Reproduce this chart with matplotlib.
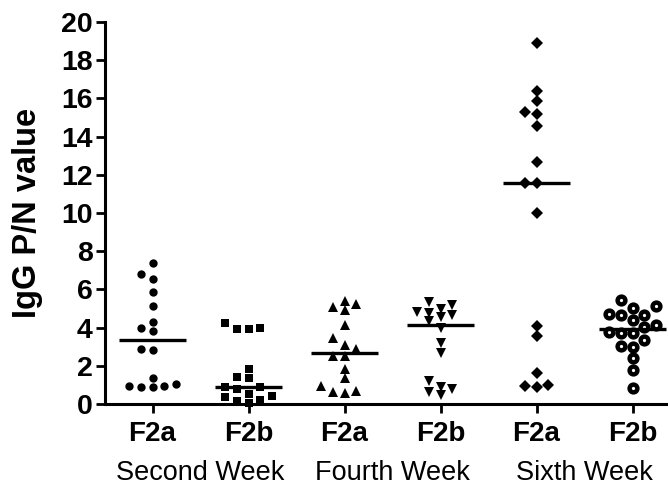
import matplotlib
matplotlib.use("Agg")
import matplotlib.pyplot as plt
import matplotlib.transforms as mtransforms
import numpy as np

plt.rcParams['font.family'] = ['Liberation Sans', 'DejaVu Sans']

# data
groups = ["F2a", "F2b", "F2a", "F2b", "F2a", "F2b"]
weeks = ["Second Week", "Fourth Week", "Sixth Week"]
second_f2a = [7.40, 6.79, 6.54, 5.88, 5.15, 4.28, 4.00, 3.84, 2.86, 2.83, 1.35, 1.03, 0.96, 0.94, 0.91, 0.87]
second_f2b = [4.22, 4.00, 3.91, 3.91, 1.82, 1.43, 1.38, 0.91, 0.87, 0.80, 0.52, 0.42, 0.35, 0.21, 0.16, 0.07]
fourth_f2a = [5.41, 5.22, 5.06, 4.92, 4.14, 3.44, 3.09, 2.88, 2.51, 2.51, 1.82, 1.38, 0.96, 0.68, 0.64, 0.56]
fourth_f2b = [5.32, 5.18, 4.96, 4.83, 4.78, 4.66, 4.54, 4.35, 3.96, 3.21, 2.69, 1.20, 0.91, 0.79, 0.64, 0.47]
sixth_f2a = [18.92, 16.39, 15.86, 15.30, 15.17, 14.55, 12.69, 11.59, 11.55, 10.02, 4.08, 3.56, 1.64, 0.99, 0.94, 0.91]
sixth_f2b = [5.45, 5.13, 5.01, 4.71, 4.66, 4.66, 4.40, 4.14, 4.02, 3.79, 3.73, 3.70, 3.35, 3.04, 3.00, 2.39, 1.78, 0.82]

series = [second_f2a, second_f2b, fourth_f2a, fourth_f2b, sixth_f2a, sixth_f2b]
# marker, size (pt), face, edge width, spacing threshold (px)
styles = [("o", 6.0, "black", 0, 8),
          ("s", 5.8, "black", 0, 8),
          ("^", 7.0, "black", 0, 8),
          ("v", 7.0, "black", 0, 8),
          ("D", 6.3, "black", 0, 9),
          ("o", 5.6, "white", 3.2, 11)]

W, H = 668, 487
fig = plt.figure(figsize=(W / 100, H / 100), dpi=100)
ax_w_px, ax_h_px = 576, 382
ax = fig.add_axes([104.5 / W, 83 / H, ax_w_px / W, ax_h_px / H])
ax.set_xlim(0.5, 6.5)
ax.set_ylim(0, 20)
px_x = ax_w_px / 6.0
px_y = ax_h_px / 20.0
step_px = 11.7


def swarm(vals, center, d_px):
    vals = np.asarray(vals)
    xs = np.zeros(len(vals))
    placed = []
    for i in np.argsort(vals):
        y = vals[i] * px_y
        for k in range(40):
            col = 0 if k == 0 else ((k + 1) // 2) * (-1 if k % 2 else 1)
            if all(not (c == col and abs(y - yy) < d_px) for c, yy in placed):
                break
        placed.append((col, y))
        xs[i] = center + col * step_px / px_x
    return xs


for i, (vals, (mk, ms, fc, mew, dpx)) in enumerate(zip(series, styles)):
    pos = i + 1
    xs = swarm(vals, pos, dpx)
    ax.plot(xs, vals, linestyle="none", marker=mk, markersize=ms,
            markerfacecolor=fc, markeredgecolor="black",
            markeredgewidth=mew, clip_on=False, zorder=3)
    med = np.median(vals)
    ax.plot([pos - 0.35, pos + 0.35], [med, med], color="black", lw=2.4,
            solid_capstyle="butt", zorder=4)

for s in ["top", "right"]:
    ax.spines[s].set_visible(False)
for s in ["left", "bottom"]:
    ax.spines[s].set_linewidth(2.2)

ax.set_yticks(np.arange(0, 21, 2))
ax.set_xticks(range(1, 7))
ax.set_xticklabels(groups, fontweight="bold", fontsize=20)
ax.tick_params(axis="both", direction="out", length=6.5, width=2)
ax.tick_params(axis="y", labelsize=20.5, pad=2)
ax.tick_params(axis="x", pad=6)
for lab in ax.get_yticklabels():
    lab.set_fontweight("bold")

ax.set_ylabel("IgG P/N value", fontsize=23.5, fontweight="bold")
ax.yaxis.set_label_coords(-0.107, 0.5)

trans = mtransforms.blended_transform_factory(ax.transData, ax.transAxes)
for j, w in enumerate(weeks):
    ax.text(2 * j + 1.5, -0.18, w, transform=trans, ha="center", va="center",
            fontsize=19.5)

fig.savefig("out.png", dpi=100)
